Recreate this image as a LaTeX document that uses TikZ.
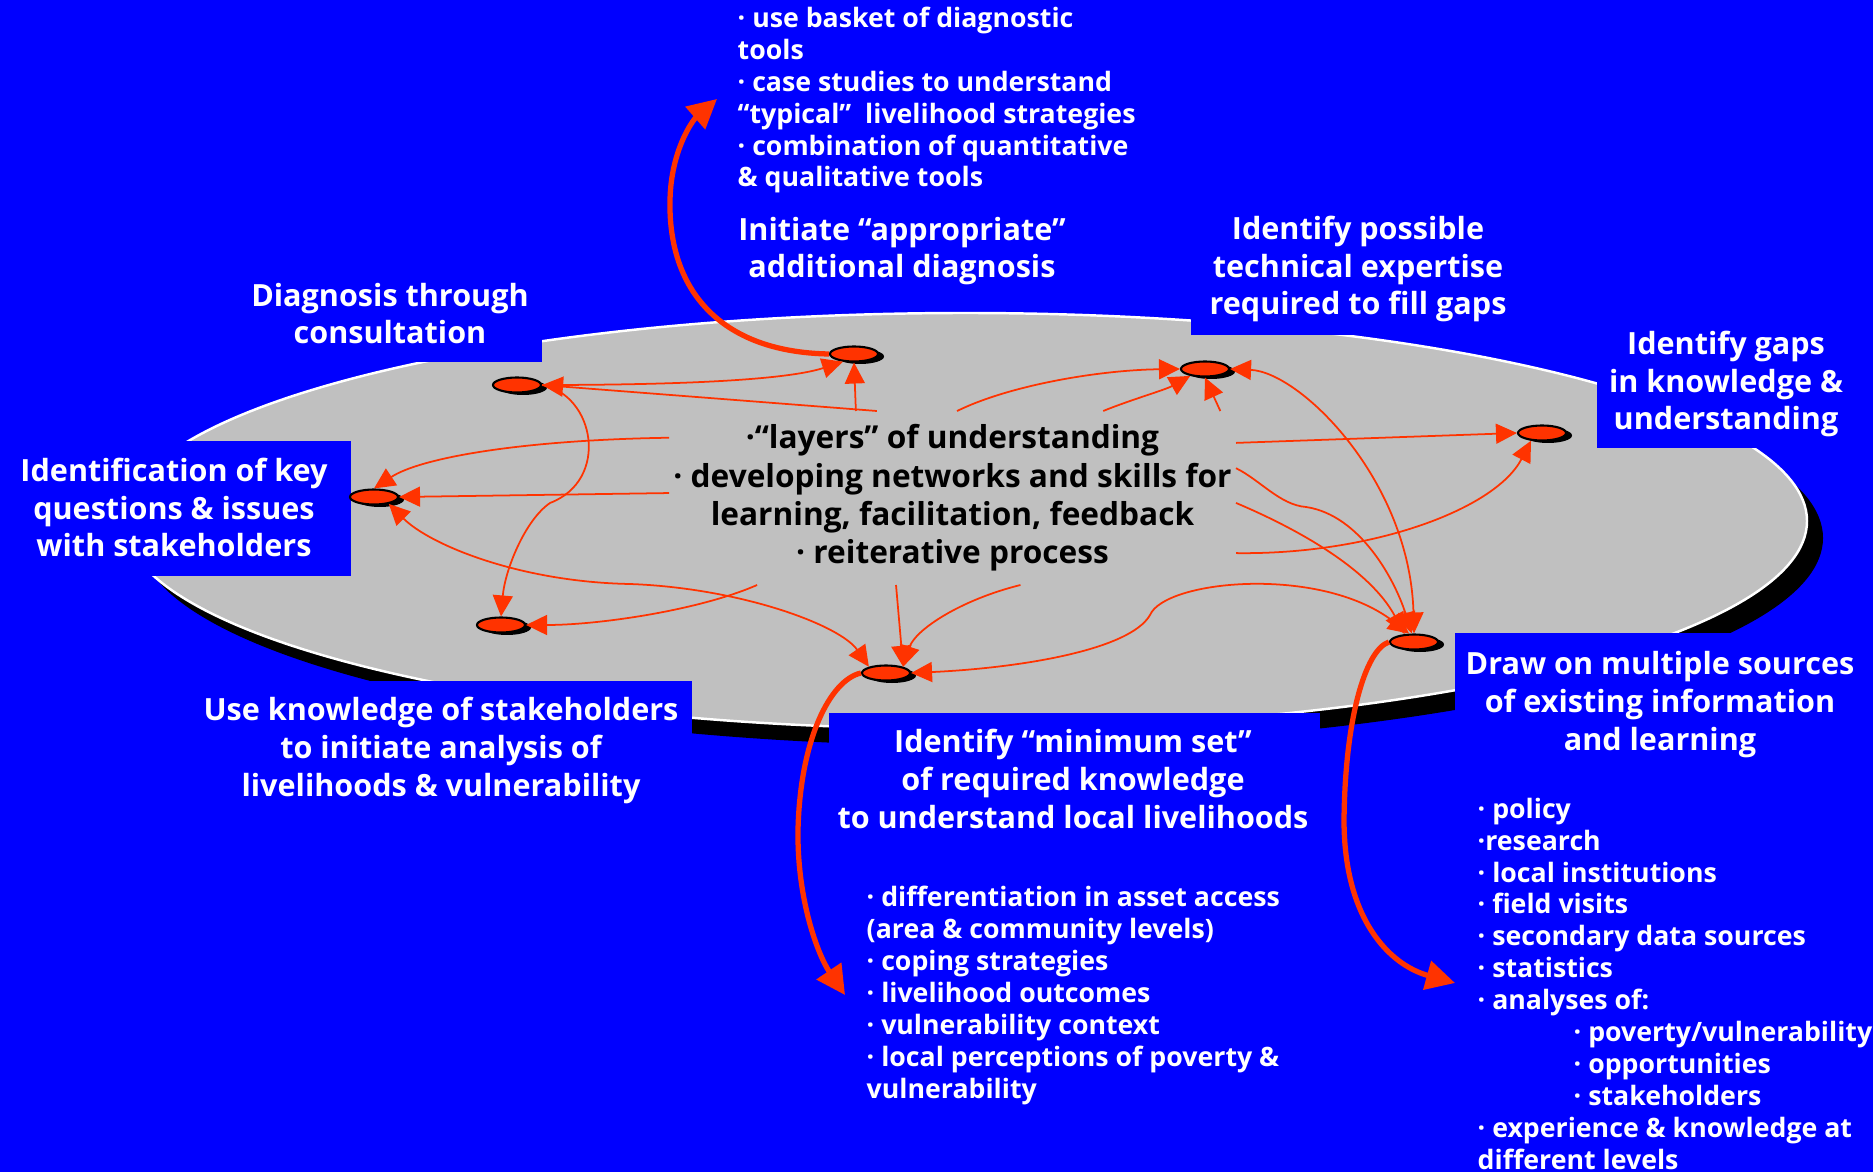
\documentclass[tikz,border=0pt]{standalone}
\usepackage{fontspec}
\setmainfont{Open Sans}
\usetikzlibrary{arrows.meta,shapes.geometric,shadows}

\definecolor{slideblue}{RGB}{0,0,255}
\definecolor{diskgray}{RGB}{192,192,192}
\definecolor{linkred}{RGB}{255,51,0}

\newcommand{\headfont}{\fontsize{8.7}{10.8}\selectfont\bfseries}
\newcommand{\listfont}{\fontsize{7.6}{9.07}\selectfont\bfseries}
\newcommand{\corefont}{\fontsize{9}{10.9}\selectfont\bfseries}

\begin{document}
\begin{tikzpicture}[x=0.1mm, y=-0.1mm,
    hub/.style={ellipse, draw=black, line width=0.6pt, fill=linkred,
      minimum width=4.8mm, minimum height=1.5mm, inner sep=0pt,
      drop shadow={shadow xshift=0.6mm, shadow yshift=-0.25mm, fill=black, opacity=1}},
    core/.style={fill=diskgray, minimum width=56.7mm, minimum height=17.4mm,
      inner sep=0pt, outer sep=0pt, align=center, font=\corefont},
    heading/.style={text=white, align=center, font=\headfont, anchor=base, inner sep=0pt},
    bullets/.style={text=white, align=left, font=\listfont, anchor=base west, inner sep=0pt},
    link/.style={draw=linkred, line width=0.5pt, -{Triangle[length=2.1mm, width=2mm]}},
    twoway/.style={link, {Triangle[length=2.1mm, width=2mm]}-{Triangle[length=2.1mm, width=2mm]}},
    bigarrow/.style={draw=linkred, line width=1.5pt, -{Triangle[length=2.9mm, width=2.9mm]}}
  ]

  % Background
  \useasboundingbox (0,0) rectangle (1873,1172);
  \fill[slideblue] (0,0) rectangle (1873,1172);

  % Disk with shadow
  \fill[black] (981.5,538) ellipse [x radius=84.15mm, y radius=20.8mm];
  \filldraw[fill=diskgray, draw=white, line width=0.7pt] (965.5,521) ellipse [x radius=84.15mm, y radius=20.8mm];

  % Label boxes
  \fill[slideblue] (238,265) rectangle (542,362);
  \fill[slideblue] (0,441) rectangle (351,576);
  \fill[slideblue] (190,681) rectangle (692,810);
  \fill[slideblue] (1191,200) rectangle (1525,335);
  \fill[slideblue] (1597,300) rectangle (1873,448);
  \fill[slideblue] (829,713) rectangle (1320,850);
  \fill[slideblue] (1455,633) rectangle (1873,770);

  % Hubs
  \node[hub] (A) at (854,354) {};
  \node[hub] (B) at (1205,369) {};
  \node[hub] (C) at (517,385) {};
  \node[hub] (D) at (374,497) {};
  \node[hub] (E) at (501,625) {};
  \node[hub] (F) at (886,673) {};
  \node[hub] (G) at (1414,642) {};
  \node[hub] (H) at (1542,433) {};

  % Core
  \node[core] (core) at (952.5,498) {·“layers” of understanding\\· developing networks and skills for\\learning, facilitation, feedback\\· reiterative process};

  % Links
  \draw[link] (core.131.7) -- (C.east);
  \draw[link] (C.east) .. controls (650,385) and (780,382) .. (A.215);
  \draw[link] (core.138.5) -- (A.south);
  \draw[link] (C.east) .. controls (595,395) and (610,480) .. (550,503)
    .. controls (525,520) and (505,570) .. (E.north);
  \draw[link] (core.168.2) .. controls (520,440) and (420,458) .. (D.north);
  \draw[link] (core.179.6) -- (D.east);
  \draw[twoway] (D.-25) .. controls (430,545) and (520,582) .. (630,584)
    .. controls (740,588) and (840,625) .. (F.160);
  \draw[link] (core.204.4) .. controls (700,610) and (600,625) .. (E.east);
  \draw[link] (core.237.5) -- (F.20);
  \draw[link] (core.308.6) .. controls (960,600) and (915,630) .. (F.20);
  \draw[twoway] (F.east) .. controls (1020,668) and (1130,650) .. (1150,615)
    .. controls (1165,580) and (1320,565) .. (G.120);
  \draw[link] (core.87.7) .. controls (1010,385) and (1100,370) .. (B.west);
  \draw[link] (core.30.9) .. controls (1130,400) and (1165,390) .. (B.205);
  \draw[link] (core.18.7) -- (B.south);
  \draw[twoway] (B.east) .. controls (1300,372) and (1410,480) .. (G.north);
  \draw[link] (core.11.4) -- (H.west);
  \draw[link] (core.6.6) .. controls (1260,480) and (1280,505) .. (1306,507)
    .. controls (1360,515) and (1395,580) .. (G.105);
  \draw[link] (core.-1) .. controls (1300,530) and (1370,570) .. (G.140);
  \draw[link] (core.-11.6) .. controls (1370,555) and (1495,510) .. (H.215);

  % Thick arrows to the lists
  \coordinate (toolsend) at (717,99);
  \coordinate (setend) at (845,995);
  \coordinate (sourcesend) at (1455,983);
  \draw[bigarrow] (A.west) .. controls (720,352) and (668,290) .. (670,200)
    .. controls (671,150) and (693,120) .. (toolsend);
  \draw[bigarrow] (F.west) .. controls (830,680) and (800,740) .. (798,830)
    .. controls (797,900) and (818,955) .. (setend);
  \draw[bigarrow] (G.west) .. controls (1365,650) and (1345,720) .. (1344,820)
    .. controls (1344,920) and (1390,965) .. (sourcesend);

  % Headings (placed at the baseline of their last line)
  \node[heading] (diag) at (390,344) {Diagnosis through\\consultation};
  \node[heading] (ident) at (174,557) {Identification of key\\questions \& issues\\with stakeholders};
  \node[heading] (useknow) at (441,796) {Use knowledge of stakeholders\\to initiate analysis of\\livelihoods \& vulnerability};
  \node[heading] (initiate) at (902,278) {Initiate “appropriate”\\additional diagnosis};
  \node[heading] (possible) at (1358,315) {Identify possible\\technical expertise\\required to fill gaps};
  \node[heading] (gaps) at (1726,430) {Identify gaps\\in knowledge \&\\understanding};
  \node[heading] (minset) at (1073,828) {Identify “minimum set”\\of required knowledge\\to understand local livelihoods};
  \node[heading] (drawon) at (1660,750) {Draw on multiple sources\\of existing information\\and learning};

  % Lists
  \node[bullets] (tools) at (737,187) {· use basket of diagnostic\\tools\\· case studies to understand\\“typical”\ \ livelihood strategies\\· combination of quantitative\\\& qualitative tools};
  \node[bullets] (needs) at (866,1098) {· differentiation in asset access\\(area \& community levels)\\· coping strategies\\· livelihood outcomes\\· vulnerability context\\· local perceptions of poverty \&\\vulnerability};
  \node[bullets] (sources) at (1477,1169) {· policy\\·research\\· local institutions\\· field visits\\· secondary data sources\\· statistics\\· analyses of:\\\hspace*{9.6mm}· poverty/vulnerability\\\hspace*{9.6mm}· opportunities\\\hspace*{9.6mm}· stakeholders\\· experience \& knowledge at\\different levels};

\end{tikzpicture}
\end{document}
